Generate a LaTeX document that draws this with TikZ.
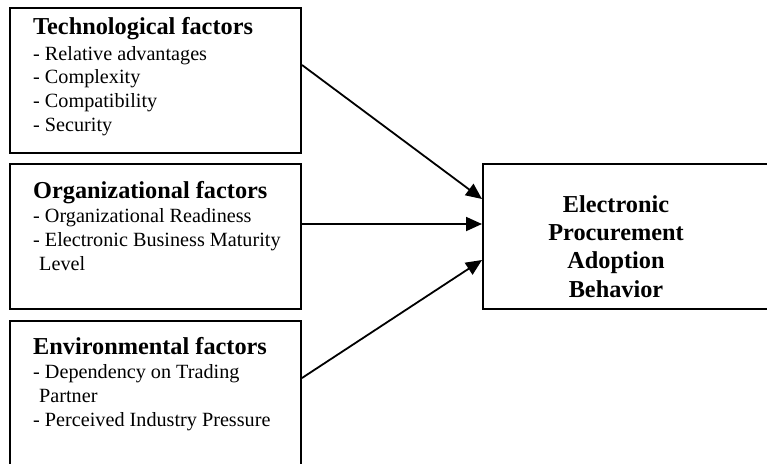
\documentclass[tikz,border=0pt]{standalone}
\usepackage{fontspec}
\setmainfont{Liberation Serif}
\usetikzlibrary{arrows.meta}
\tikzset{
  box/.style={draw, line width=2pt, rectangle, anchor=north west, inner sep=0pt},
  blocktext/.style={anchor=base west, align=left, inner sep=0pt, font=\fontsize{20.2}{23.6}\selectfont},
  arr/.style={line width=1.8pt, -{Triangle[length=16pt,width=14pt]}}
}
\newcommand{\boxtitle}[1]{{\fontsize{24.3}{26}\selectfont\bfseries #1}}
\begin{document}
\begin{tikzpicture}[x=1pt,y=-1pt]
\useasboundingbox (0,0) rectangle (767,463);
\node[box, minimum width=291pt, minimum height=145pt] (tech) at (9,7) {};
\node[box, minimum width=291pt, minimum height=145pt] (org) at (9,163) {};
\node[box, minimum width=291pt, minimum height=160pt] (env) at (9,320) {};
\node[box, minimum width=300pt, minimum height=145pt] (epa) at (482,163) {};
\node[blocktext] (techtxt) at (33,131) {\boxtitle{Technological factors}\\[2.5pt]
- Relative advantages\\
- Complexity\\
- Compatibility\\
- Security};
\node[blocktext] (orgtxt) at (33,270) {\boxtitle{Organizational factors}\\[0.5pt]
- Organizational Readiness\\
- Electronic Business Maturity\\
\hspace*{6pt}Level};
\node[blocktext] (envtxt) at (33,426) {\boxtitle{Environmental factors}\\[0.5pt]
- Dependency on Trading\\
\hspace*{6pt}Partner\\
- Perceived Industry Pressure};
\node[anchor=base, align=center, inner sep=0pt, font=\fontsize{24.3}{28.3}\selectfont\bfseries] (epatxt) at (616,297) {Electronic\\Procurement\\Adoption\\Behavior};
\draw[arr] ([yshift=-58pt]tech.north east) -- ([yshift=-36pt]epa.north west);
\draw[arr] ([yshift=-61pt]org.north east) -- ([yshift=-61pt]epa.north west);
\draw[arr] ([yshift=-58pt]env.north east) -- ([yshift=-97pt]epa.north west);
\end{tikzpicture}
\end{document}
